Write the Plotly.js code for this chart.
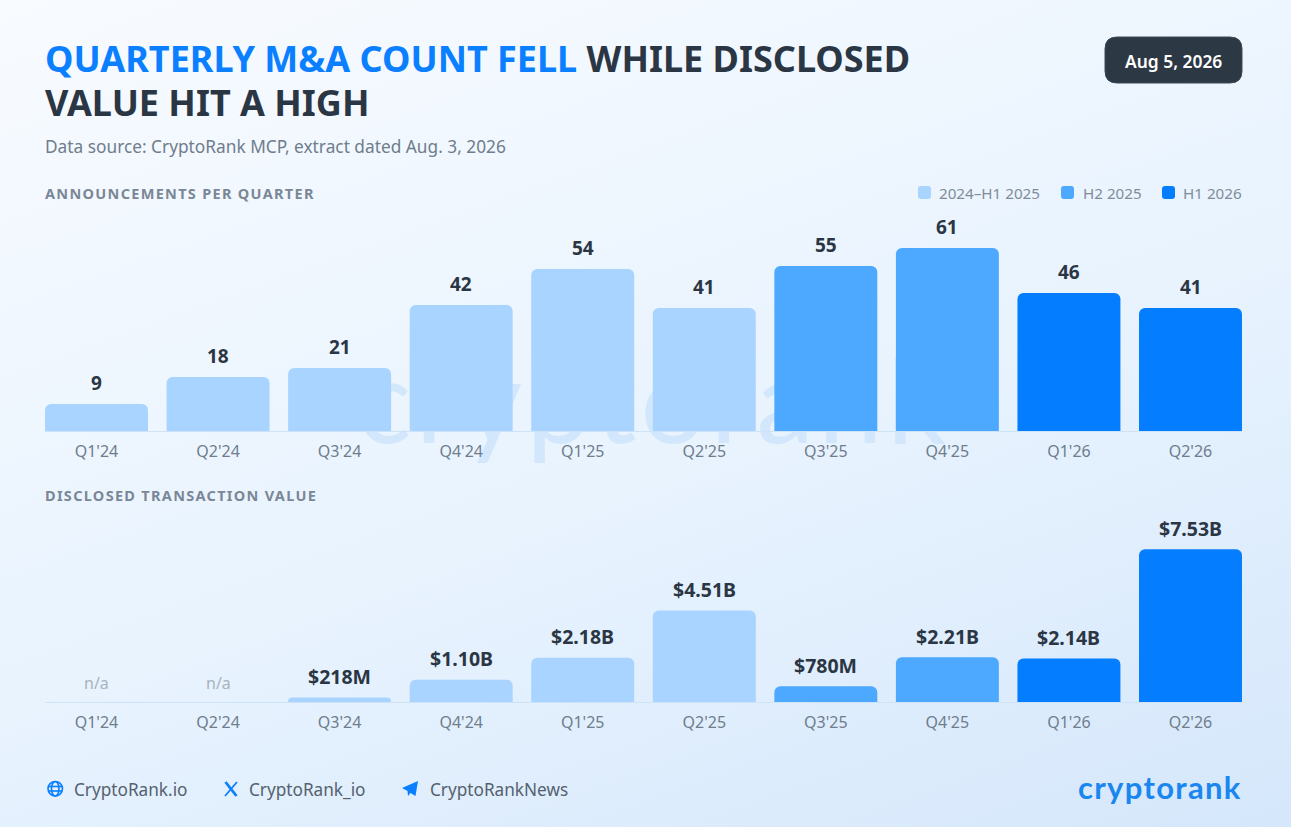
<!DOCTYPE html>
<html>
<head>
<meta charset="utf-8">
<script src="https://cdn.plot.ly/plotly-3.0.1.min.js"></script>
<style>
  html, body { margin: 0; padding: 0; width: 1291px; height: 827px; overflow: hidden; }
  body { background: linear-gradient(160deg, #f8fbff 0%, #e8f3fe 55%, #d5e7fb 100%); position: relative; }
  #mark { position: absolute; left: 356px; top: 318px; font: 400 116px/1.4 Lato, sans-serif; color: #d3e7fc; letter-spacing: 4.3px; }
  #chart { position: absolute; left: 0; top: 0; width: 1291px; height: 827px; }
</style>
</head>
<body>
<div id="mark">cryptorank</div>
<div id="chart"></div>
<script>
// chart data
const quarters = ["Q1'24", "Q2'24", "Q3'24", "Q4'24", "Q1'25", "Q2'25", "Q3'25", "Q4'25", "Q1'26", "Q2'26"];
const counts = [9, 18, 21, 42, 54, 41, 55, 61, 46, 41];
const values = [0, 0, 0.218, 1.10, 2.18, 4.51, 0.78, 2.21, 2.14, 7.53];
const valueLabels = ["n/a", "n/a", "$218M", "$1.10B", "$2.18B", "$4.51B", "$780M", "$2.21B", "$2.14B", "$7.53B"];
const periods = [0, 0, 0, 0, 0, 0, 1, 1, 2, 2];
const periodNames = ["2024–H1 2025", "H2 2025", "H1 2026"];
const periodColors = ["#a8d4ff", "#4da8ff", "#057dff"];

const W = 1291, H = 827;
const FONT = "'Noto Sans', sans-serif";
const DARK = "#2b3644", GREY = "#6f7d8c", BLUE = "#0a7fff";
const px = x => x / W;
const py = y => 1 - y / H;

function roundRect(x0, y0, x1, y1, r) {
  return "M" + px(x0 + r) + "," + py(y0) + " L" + px(x1 - r) + "," + py(y0) +
    " Q" + px(x1) + "," + py(y0) + " " + px(x1) + "," + py(y0 + r) +
    " L" + px(x1) + "," + py(y1 - r) +
    " Q" + px(x1) + "," + py(y1) + " " + px(x1 - r) + "," + py(y1) +
    " L" + px(x0 + r) + "," + py(y1) +
    " Q" + px(x0) + "," + py(y1) + " " + px(x0) + "," + py(y1 - r) +
    " L" + px(x0) + "," + py(y0 + r) +
    " Q" + px(x0) + "," + py(y0) + " " + px(x0 + r) + "," + py(y0) + " Z";
}

function poly(points) {
  return points.map((p, i) => (i ? "L" : "M") + px(p[0]) + "," + py(p[1])).join(" ");
}

// left anchored annotations sit 2px right of x because of their padding
function paperText(text, x, y, size, color, weight) {
  return {
    text: text, xref: "paper", yref: "paper", x: px(x - 2), y: py(y),
    xanchor: "left", yanchor: "middle", showarrow: false,
    font: { family: FONT, size: size, color: color, weight: weight || 400 }
  };
}

function barTraces(series, xa, ya) {
  return periodNames.map((name, p) => {
    const idx = quarters.map((q, i) => i).filter(i => periods[i] === p);
    return {
      type: "bar", name: name, xaxis: xa, yaxis: ya,
      x: idx.map(i => quarters[i]),
      y: idx.map(i => series[i]),
      width: 0.847,
      marker: { color: periodColors[p], cornerradius: 6, line: { width: 0 } },
      hoverinfo: "x+y", showlegend: false
    };
  });
}

const data = barTraces(counts, "x", "y").concat(barTraces(values, "x2", "y2"));

// value labels above the bars
const annotations = [];
quarters.forEach((q, i) => {
  annotations.push({
    text: String(counts[i]), xref: "x", yref: "y", x: q, y: counts[i],
    yanchor: "middle", yshift: 21, showarrow: false,
    font: { family: FONT, size: 19, color: DARK, weight: 700 }
  });
  const na = valueLabels[i] === "n/a";
  annotations.push({
    text: valueLabels[i], xref: "x2", yref: "y2", x: q, y: values[i],
    yanchor: "middle", yshift: na ? 19 : 21, showarrow: false,
    font: { family: FONT, size: na ? 16 : 19.5, color: na ? "#a9b3bd" : DARK, weight: na ? 400 : 700 }
  });
});

annotations.push(paperText("<span style=\"color:" + DARK + "\">VALUE HIT A HIGH</span>", 45, 102, 36, DARK, 700));
annotations.push(paperText("Data source: CryptoRank MCP, extract dated Aug. 3, 2026", 45, 146, 17.3, GREY));
const headStyle = "<span style=\"letter-spacing:1.3px\">";
annotations.push(paperText(headStyle + "ANNOUNCEMENTS PER QUARTER</span>", 45, 193, 14.5, "#7a8796", 700));
annotations.push(paperText(headStyle + "DISCLOSED TRANSACTION VALUE</span>", 45, 495, 14.5, "#7a8796", 700));
annotations.push({
  text: "Aug 5, 2026", xref: "paper", yref: "paper", x: px(1173.5), y: py(60.5),
  xanchor: "center", yanchor: "middle", showarrow: false,
  font: { family: FONT, size: 17.4, color: "#ffffff", weight: 600 }
});

// legend
const legendSwatchX = [918, 1061, 1162];
const legendTextX = [939, 1083, 1183];
periodNames.forEach((n, i) => annotations.push(paperText(n, legendTextX[i], 193, 15.2, "#808c9a")));

// footer
annotations.push(paperText("CryptoRank.io", 74, 789, 17.2, "#54616f"));
annotations.push(paperText("CryptoRank_io", 249, 789, 17.2, "#54616f"));
annotations.push(paperText("CryptoRankNews", 430, 789, 17.2, "#54616f"));
const logo = paperText("<span style=\"letter-spacing:1.3px\">cryptorank</span>", 1078, 787, 31, "#1a86f0", 700);
logo.font.family = "Lato, sans-serif";
annotations.push(logo);

const shapes = [
  { type: "path", xref: "paper", yref: "paper", path: roundRect(1105, 37, 1242, 83, 12), fillcolor: "#2d3845", line: { color: "#3e4a57", width: 1 } }
];
legendSwatchX.forEach((x, i) => shapes.push({
  type: "path", xref: "paper", yref: "paper", path: roundRect(x, 186, x + 13, 199, 3),
  fillcolor: periodColors[i], line: { width: 0 }
}));

// footer icons
const iconLine = { color: BLUE, width: 1.6 };
shapes.push({ type: "circle", xref: "paper", yref: "paper", x0: px(48), x1: px(62.5), y0: py(781.5), y1: py(796), line: iconLine });
shapes.push({ type: "circle", xref: "paper", yref: "paper", x0: px(51.5), x1: px(59), y0: py(781.5), y1: py(796), line: iconLine });
shapes.push({ type: "path", xref: "paper", yref: "paper", path: poly([[48.5, 786.5], [62, 786.5]]), line: iconLine });
shapes.push({ type: "path", xref: "paper", yref: "paper", path: poly([[48.5, 791], [62, 791]]), line: iconLine });
shapes.push({ type: "path", xref: "paper", yref: "paper", path: poly([[225.5, 782], [236.5, 796]]), line: { color: BLUE, width: 2.8 } });
shapes.push({ type: "path", xref: "paper", yref: "paper", path: poly([[237, 782], [225, 796]]), line: { color: BLUE, width: 1.8 } });
shapes.push({ type: "path", xref: "paper", yref: "paper", path: poly([[402, 788], [418, 781], [415.5, 796], [410.5, 793], [408, 796], [407.5, 791], [402, 788]]) + " Z", fillcolor: BLUE, line: { width: 0 } });

const axisLine = "#cfe3f7";
const xAxisBase = {
  type: "category", categoryorder: "array", categoryarray: quarters,
  range: [-0.4237, 9.4237], domain: [px(45), px(1242)], fixedrange: true,
  showgrid: false, zeroline: false, showline: true, linecolor: axisLine, linewidth: 1,
  ticks: "", ticklabelstandoff: 6,
  tickfont: { family: FONT, size: 16, color: GREY }
};
const yAxisBase = { visible: false, fixedrange: true, showgrid: false, zeroline: false };

const layout = {
  width: W, height: H,
  margin: { l: 0, r: 0, t: 0, b: 0, pad: 0 },
  paper_bgcolor: "rgba(0,0,0,0)", plot_bgcolor: "rgba(0,0,0,0)",
  barmode: "overlay", showlegend: false,
  title: {
    text: "<span style=\"color:#0a7fff\">QUARTERLY M&amp;A COUNT FELL</span> WHILE DISCLOSED",
    x: px(45), xanchor: "left", y: py(59), yanchor: "middle",
    font: { family: FONT, size: 36, color: DARK, weight: 700 }
  },
  xaxis: Object.assign({ anchor: "y" }, xAxisBase),
  yaxis: Object.assign({ anchor: "x", domain: [py(431), py(221)], range: [0, 70] }, yAxisBase),
  xaxis2: Object.assign({ anchor: "y2" }, xAxisBase),
  yaxis2: Object.assign({ anchor: "x2", domain: [py(702), py(539.6)], range: [0, 8] }, yAxisBase),
  annotations: annotations,
  shapes: shapes
};

Plotly.newPlot("chart", data, layout, { displayModeBar: false, responsive: false });
</script>
</body>
</html>
